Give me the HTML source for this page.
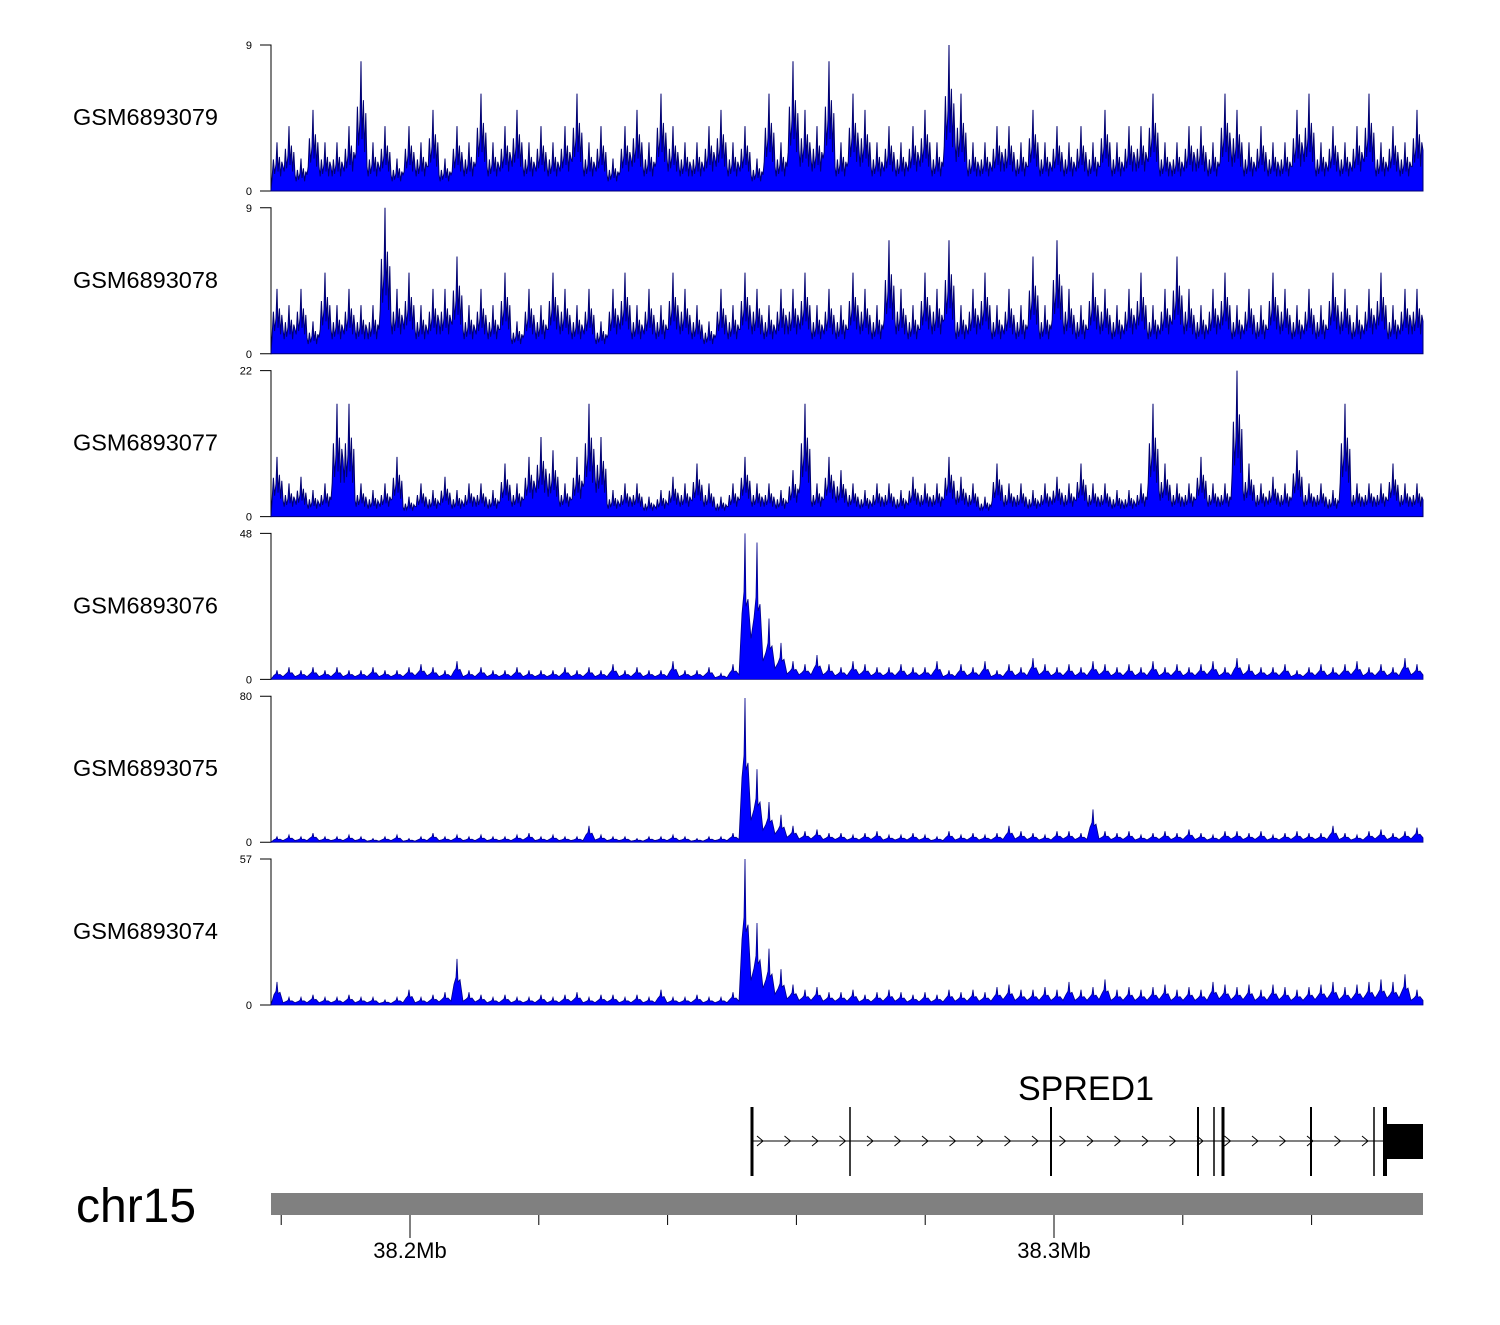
<!DOCTYPE html>
<html><head><meta charset="utf-8"><style>
body{margin:0;background:#fff;}
svg text{font-family:"Liberation Sans",sans-serif;}
</style></head><body>
<svg id="chart" width="1500" height="1320" xmlns="http://www.w3.org/2000/svg">
<g id="tracks"></g>
<g id="gene">
<text x="1086" y="1100" font-size="34" text-anchor="middle">SPRED1</text>
</g>
<text x="76" y="1222" font-size="48">chr15</text>
<rect x="271" y="1193" width="1152" height="22" fill="#808080"/>
<g id="axis"></g>
</svg>
<script>
const trackNames=["GSM6893079","GSM6893078","GSM6893077","GSM6893076","GSM6893075","GSM6893074"];
const trackMax=[9,9,22,48,80,57];
const t1=[3,4,2,5,3,3,4,8,3,4,2,4,3,5,2,4,3,6,3,4,5,3,4,3,4,6,3,4,2,4,5,3,6,4,3,3,4,5,3,4,2,6,3,8,5,4,8,3,6,5,3,4,3,4,5,3,9,6,3,3,4,4,3,5,3,4,3,4,3,5,3,4,4,6,3,3,4,4,3,6,5,3,4,3,3,5,6,3,4,3,4,6,3,4,3,5];
const t2=[4,3,4,2,5,3,4,3,3,9,4,5,3,4,4,6,3,4,3,5,2,4,3,5,4,3,4,2,4,5,3,4,3,5,4,3,2,4,3,5,4,3,4,4,5,3,4,3,5,4,3,7,4,3,5,4,7,3,4,5,3,4,3,6,3,7,4,3,5,4,3,4,5,3,4,6,4,3,4,5,3,4,3,5,4,3,4,3,5,4,3,4,5,3,4,4];
const t3=[9,5,6,4,5,17,17,5,4,5,9,3,5,4,6,4,5,5,4,8,5,9,12,10,5,9,17,12,4,5,5,3,4,6,5,8,5,3,5,9,5,5,4,7,17,5,9,7,5,4,5,5,4,6,5,5,9,6,5,3,8,5,5,4,5,6,5,8,5,5,4,4,5,17,8,5,5,9,5,5,22,8,5,6,5,10,5,5,4,17,5,5,5,8,5,5];
const t4=[3,4,3,4,3,4,3,3,4,3,3,4,5,4,3,6,3,4,3,3,4,3,3,3,4,3,4,3,5,3,4,3,3,6,3,3,4,2,5,48,45,20,12,6,5,8,5,4,6,5,4,4,5,4,4,6,3,5,4,6,3,5,4,7,5,4,5,4,6,5,4,5,4,6,4,5,4,5,6,4,7,5,4,4,5,3,4,5,4,5,6,4,5,4,7,5];
const t5=[3,4,3,5,3,3,4,3,2,3,4,2,3,5,3,4,3,4,3,3,4,5,3,4,3,3,9,4,3,3,2,3,3,4,3,2,3,3,5,79,40,22,15,9,6,7,5,5,4,5,6,4,4,5,4,3,6,4,5,4,5,9,6,5,4,6,6,5,18,6,5,6,4,5,6,5,7,5,4,6,6,5,6,4,5,6,5,5,9,5,4,6,7,5,6,8];
const t6=[9,3,3,4,3,3,4,3,3,2,3,6,3,4,5,18,5,4,3,4,3,3,4,3,4,5,3,4,4,3,4,3,6,3,3,4,3,3,5,57,32,22,14,8,6,7,5,5,6,4,5,6,5,4,5,4,6,5,6,5,7,8,6,6,7,6,9,6,7,10,6,7,6,7,8,6,7,6,9,8,7,8,6,8,7,6,7,8,9,7,8,9,10,9,12,6];
const trackData=[t1,t2,t3,t4,t5,t6];
const axisTicks=[38.18,38.2,38.22,38.24,38.26,38.28,38.3,38.32,38.34];
const axisLabels=["38.2Mb","38.3Mb"];
const labelPos=[38.2,38.3];

const NS="http://www.w3.org/2000/svg";
const X0=271,X1=1423;
function gx(mb){return 410+(mb-38.2)*6440;}
function mk(tag,attrs,parent){const e=document.createElementNS(NS,tag);for(const k in attrs)e.setAttribute(k,attrs[k]);parent.appendChild(e);return e;}
const tracksG=document.getElementById('tracks');
trackData.forEach((vals,t)=>{
  const top=45+t*162.8, base=top+146, mx=trackMax[t];
  const ys=v=>base-v/mx*146;
  const noisy=t<3;
  const g=mk('g',{},tracksG);
  
  
  const lab=mk('text',{x:218,y:top+80,'font-size':23.5,'text-anchor':'end'},g);
  lab.textContent=trackNames[t];
  
  
  const ax=mk('path',{d:`M260,${top}H271V${base}H260`,stroke:'#000',fill:'none','stroke-width':1},g);
  
  
  const tm=mk('text',{x:252,y:top+4,'font-size':11,'text-anchor':'end'},g);tm.textContent=mx;
  
  
  const t0=mk('text',{x:252,y:base+4,'font-size':11,'text-anchor':'end'},g);t0.textContent='0';
  
  
  const n=vals.length, step=(X1-X0)/n;
  let d=`M${X0},${base}`;
  const f=noisy?0.5:0.3;
  vals.forEach((v,i)=>{
    const xc=X0+(i+0.5)*step;
    const lo=Math.min(v,vals[i+1]!==undefined?vals[i+1]:v)*f;
    if(noisy){
      d+=`L${xc-step*0.4},${ys(v*0.3)}L${xc-step*0.3},${ys(v*0.65)}L${xc-step*0.2},${ys(v*0.35)}L${xc-1},${ys(v*0.55)}L${xc},${ys(v)}L${xc+1},${ys(v*0.4)}L${xc+step*0.2},${ys(v*0.7)}L${xc+step*0.3},${ys(v*0.3)}L${xc+step*0.4},${ys(v*0.6)}L${xc+step*0.5},${ys(lo)}`;
    } else {
      d+=`L${xc-step*0.25},${ys(v*0.45)}L${xc-1},${ys(v*0.6)}L${xc},${ys(v)}L${xc+1},${ys(v*0.5)}L${xc+step*0.25},${ys(v*0.55)}L${xc+step*0.5},${ys(lo)}`;
    }
  });
  d+=`L${X1},${base}Z`;
  const p=mk('path',{d:d,fill:'#0000ff',stroke:noisy?'#000070':'#00008b','stroke-width':noisy?1:0.8},g);
  
  
});
const gene=document.getElementById('gene');
const ln=mk('line',{x1:752,y1:1141,x2:1423,y2:1141,stroke:'#000','stroke-width':1},gene);


for(let x=760;x<1380;x+=27.5){
  const a=mk('path',{d:`M${x-3},${1136}L${x+3},1141L${x-3},1146`,stroke:'#000',fill:'none','stroke-width':1},gene);
  
  
}
[[752,3],[850,1.5],[1051,2],[1198,2],[1214,1.5],[1223,3],[1311,2],[1374,1.5],[1385,4]].forEach(e=>{
  const r=mk('line',{x1:e[0],y1:1107,x2:e[0],y2:1176,stroke:'#000','stroke-width':e[1]},gene);
  
  
});
const blk=mk('rect',{x:1386,y:1124,width:37,height:35,fill:'#000'},gene);


const axG=document.getElementById('axis');
axisTicks.forEach(m=>{
  const major=labelPos.some(l=>Math.abs(l-m)<1e-9);
  const tk=mk('line',{x1:gx(m),y1:1215,x2:gx(m),y2:major?1238:1225,stroke:'#000'},axG);
  
  
});
labelPos.forEach((m,i)=>{
  const tx=mk('text',{x:gx(m),y:1258,'font-size':22,'text-anchor':'middle'},axG);
  tx.textContent=axisLabels[i];
  
  
});
</script>
</body></html>
